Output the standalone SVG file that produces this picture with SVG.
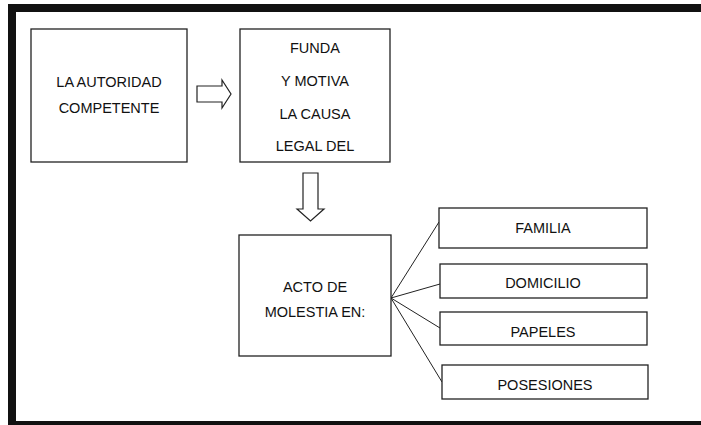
<svg xmlns="http://www.w3.org/2000/svg" width="701" height="425" viewBox="0 0 701 425">
<style>
.box{fill:#fff;stroke:#222;stroke-width:1.3}
.t{font-family:"Liberation Sans",Arial,sans-serif;font-size:14.5px;fill:#111;text-anchor:middle}
.con{stroke:#222;stroke-width:1;fill:none}
.arr{fill:#fff;stroke:#222;stroke-width:1.2}
</style>
<rect x="0" y="0" width="701" height="425" fill="#fff"/>
<g id="frame">
<rect x="8" y="4" width="693" height="8" fill="#111"/>
<rect x="8" y="4" width="8" height="421" fill="#111"/>
<rect x="8" y="421" width="693" height="4" fill="#111"/>
</g>
<g id="connectors">
<path class="arr" d="M197,86 H222 V80 L231,94 L222,108 V102 H197 Z"/>
<path class="arr" d="M303,173 H318 V209 H324 L310.5,221 L297,209 H303 Z"/>
<line class="con" x1="391" y1="298" x2="439" y2="222"/>
<line class="con" x1="391" y1="298" x2="440" y2="284"/>
<line class="con" x1="391" y1="298" x2="440" y2="328"/>
<line class="con" x1="391" y1="298" x2="442" y2="382"/>
</g>
<g id="autoridad">
<rect class="box" x="31" y="29" width="156" height="133"/>
<text class="t" x="109" y="87">LA AUTORIDAD</text>
<text class="t" x="109" y="113">COMPETENTE</text>
</g>
<g id="funda">
<rect class="box" x="240" y="29" width="150" height="133"/>
<text class="t" x="315" y="53">FUNDA</text>
<text class="t" x="315" y="86">Y MOTIVA</text>
<text class="t" x="315" y="119">LA CAUSA</text>
<text class="t" x="315" y="151">LEGAL DEL</text>
</g>
<g id="acto">
<rect class="box" x="239" y="235" width="152" height="121"/>
<text class="t" x="315" y="292">ACTO DE</text>
<text class="t" x="315" y="317">MOLESTIA EN:</text>
</g>
<g id="familia">
<rect class="box" x="439" y="208" width="208" height="40"/>
<text class="t" x="543" y="233">FAMILIA</text>
</g>
<g id="domicilio">
<rect class="box" x="440" y="264" width="207" height="34"/>
<text class="t" x="543" y="288">DOMICILIO</text>
</g>
<g id="papeles">
<rect class="box" x="440" y="312" width="207" height="33"/>
<text class="t" x="543" y="337">PAPELES</text>
</g>
<g id="posesiones">
<rect class="box" x="442" y="365" width="206" height="34"/>
<text class="t" x="545" y="390">POSESIONES</text>
</g>
</svg>
